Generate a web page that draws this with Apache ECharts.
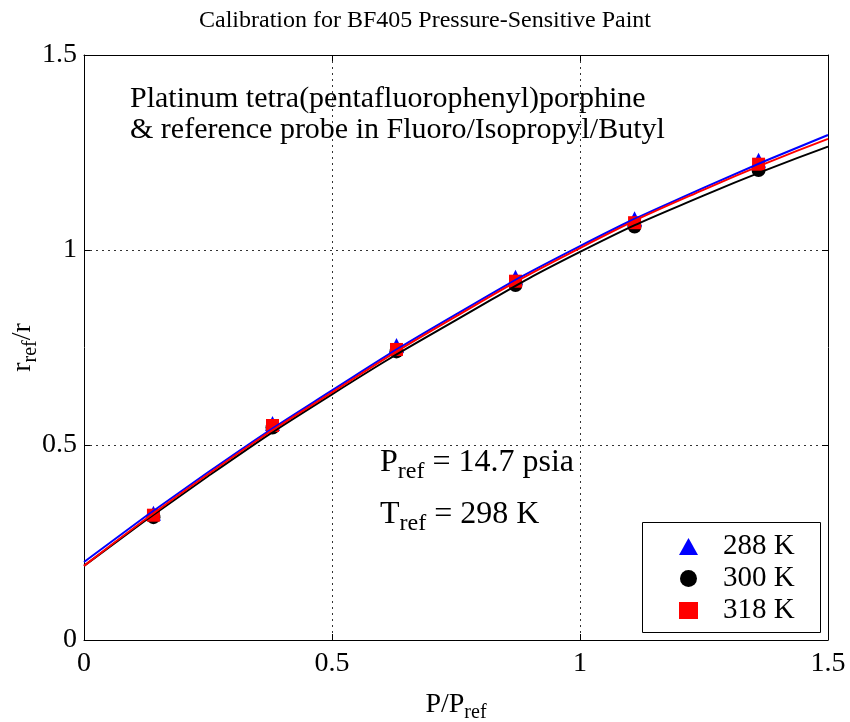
<!DOCTYPE html>
<html><head><meta charset="utf-8">
<script src="https://cdn.jsdelivr.net/npm/echarts@6/dist/echarts.min.js"></script>
<style>html,body{margin:0;padding:0;background:#fff}#c{width:850px;height:722px}</style>
</head><body><div id="c"></div>
<script>
var FONT = '"Liberation Serif", "Times New Roman", serif';
var xTicks = [0, 0.5, 1, 1.5];
var yTicks = [0, 0.5, 1, 1.5];
var pRatio = [0.14, 0.38, 0.63, 0.87, 1.11, 1.36];
var k288 = [0.325, 0.555, 0.755, 0.93, 1.08, 1.23];
var k300 = [0.315, 0.545, 0.74, 0.91, 1.06, 1.205];
var k318 = [0.32, 0.55, 0.745, 0.92, 1.07, 1.22];
var fitX = [0, 0.25, 0.5, 0.75, 1.0, 1.25, 1.5];
var fit288 = [0.20, 0.43, 0.64, 0.835, 1.01, 1.16, 1.295];
var fit300 = [0.19, 0.42, 0.63, 0.82, 0.995, 1.14, 1.265];
var fit318 = [0.19, 0.425, 0.635, 0.83, 1.005, 1.155, 1.285];
var names = ['288 K', '300 K', '318 K'];
var colors = ['#0000ff', '#000000', '#ff0000'];
var symbols = ['triangle', 'circle', 'rect'];
var symSizes = [15, 14, 13];

function pairs(xs, ys) { return xs.map(function (x, i) { return [x, ys[i]]; }); }

var chart = echarts.init(document.getElementById('c'));
var grid = { left: 84, right: 22, top: 55, bottom: 82, containLabel: false, outerBoundsMode: 'none' };
function axisBase(pos, showLabel) {
  return {
    type: 'value', min: 0, max: 1.5, interval: 0.5, position: pos,
    axisLine: { show: true, onZero: false, lineStyle: { color: '#000', width: 1 } },
    axisTick: { show: true, inside: true, length: 6, lineStyle: { color: '#000' } },
    axisLabel: { show: showLabel, color: '#000', fontFamily: FONT, fontSize: 28, margin: 7,
      formatter: function (v) { return String(v); } },
    splitLine: { show: showLabel, lineStyle: { type: [2, 4], color: '#333', width: 1 } }
  };
}
var rich = { n: { fontFamily: FONT, fontSize: 28, color: '#000' },
             s: { fontFamily: FONT, fontSize: 20, color: '#000', padding: [16, 0, 0, 0] } };
var xa = axisBase('bottom', true);
xa.axisLabel.margin = 10;
xa.name = '{n|P/P}{s|ref}';
xa.nameLocation = 'middle';
xa.nameGap = 47;
xa.nameMoveOverlap = false;
xa.nameTextStyle = { rich: rich };
var xb = axisBase('top', false);
var ya = axisBase('left', true);
ya.name = '{n|r}{s|ref}{n|/r}';
ya.nameLocation = 'middle';
ya.nameGap = 43;
ya.nameMoveOverlap = false;
ya.nameTextStyle = { rich: rich };
var yb = axisBase('right', false);

var series = [];
var order = [1, 0, 2];
order.forEach(function (i) {
  var d = [k288, k300, k318][i];
  series.push({ name: names[i], type: 'scatter', xAxisIndex: 0, yAxisIndex: 0,
    data: pairs(pRatio, d), symbol: symbols[i], symbolSize: symSizes[i],
    itemStyle: { color: colors[i], opacity: 1 }, z: 2 });
});
order.forEach(function (i) {
  var d = [fit288, fit300, fit318][i];
  series.push({ name: names[i] + ' fit', type: 'line', xAxisIndex: 0, yAxisIndex: 0,
    data: pairs(fitX, d), smooth: true, showSymbol: false, symbol: 'none',
    lineStyle: { color: colors[i], width: 2 }, z: 3 });
});

chart.setOption({
  animation: false,
  backgroundColor: '#fff',
  title: { text: 'Calibration for BF405 Pressure-Sensitive Paint', left: 'center', top: 4,
    textStyle: { fontFamily: FONT, fontSize: 24, fontWeight: 'normal', color: '#000' } },
  grid: grid,
  xAxis: [xa, xb],
  yAxis: [ya, yb],
  legend: {
    data: names.map(function (n, i) { return { name: n, icon: symbols[i], itemStyle: { color: colors[i], opacity: 1 } }; }),
    orient: 'vertical', left: 674, top: 527, itemWidth: 19, itemHeight: 17, itemGap: 3,
    textStyle: { fontFamily: FONT, fontSize: 29, color: '#000', padding: [0, 0, 0, 20] },
    selectedMode: false, z: 20
  },
  graphic: [
    { type: 'rect', left: 642, top: 522, shape: { width: 178, height: 110 },
      style: { fill: '#fff', stroke: '#000', lineWidth: 1 }, z: 1 },
    { type: 'text', left: 130, top: 84, z: 10,
      style: { text: 'Platinum tetra(pentafluorophenyl)porphine\n& reference probe in Fluoro/Isopropyl/Butyl',
        font: '30px ' + FONT, fill: '#000', lineHeight: 31 } },
    { type: 'text', left: 380, top: 447, z: 10,
      style: { text: '{n|P}{s|ref}{n| = 14.7 psia}', rich: {
        n: { font: '32px ' + FONT, fill: '#000' }, s: { font: '24px ' + FONT, fill: '#000', padding: [18, 0, 0, 0] } } } },
    { type: 'text', left: 380, top: 499, z: 10,
      style: { text: '{n|T}{s|ref}{n| = 298 K}', rich: {
        n: { font: '32px ' + FONT, fill: '#000' }, s: { font: '24px ' + FONT, fill: '#000', padding: [18, 0, 0, 0] } } } }
  ],
  series: series
});
</script></body></html>
